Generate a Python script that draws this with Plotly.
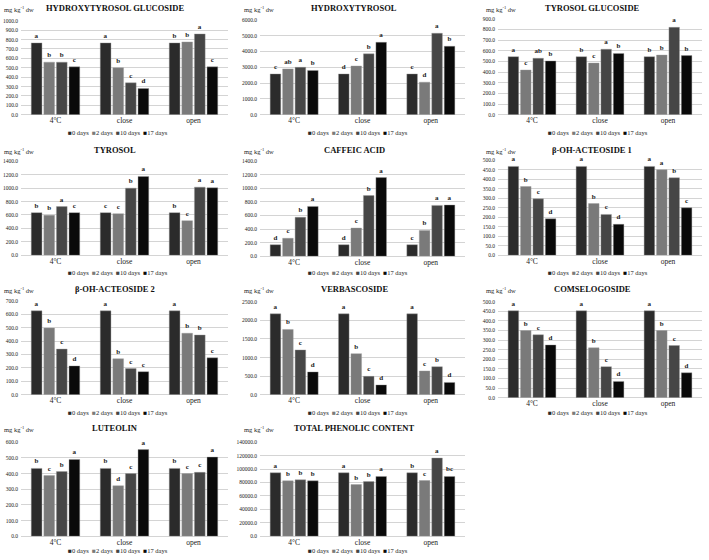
import plotly.graph_objects as go

W, H = 709, 560
FONT = "Liberation Serif"

groups = ["4°C", "close", "open"]
days = ["0 days", "2 days", "10 days", "17 days"]
colors = ["#2b2b2b", "#7a7a7a", "#464646", "#0a0a0a"]

# values: rows = groups (4°C, close, open), columns = days (0, 2, 10, 17)
ht_glucoside = [[765, 560, 560, 510], [765, 500, 340, 280], [765, 775, 860, 510]]
ht_glucoside_lt = [["a", "b", "b", "c"], ["a", "b", "c", "d"], ["b", "b", "a", "c"]]

hydroxytyrosol = [[2580, 2900, 3000, 2800], [2580, 3080, 3850, 4580], [2580, 2060, 5150, 4330]]
hydroxytyrosol_lt = [["c", "ab", "a", "b"], ["d", "c", "b", "a"], ["c", "d", "a", "b"]]

tyr_glucoside = [[545, 420, 530, 505], [545, 485, 615, 575], [545, 560, 820, 555]]
tyr_glucoside_lt = [["a", "c", "ab", "b"], ["b", "c", "a", "b"], ["b", "b", "a", "b"]]

tyrosol = [[635, 595, 725, 635], [635, 620, 1000, 1175], [635, 515, 1015, 1005]]
tyrosol_lt = [["b", "b", "a", "c"], ["c", "c", "b", "a"], ["b", "c", "a", "a"]]

caffeic = [[170, 265, 575, 735], [170, 415, 895, 1160], [170, 380, 750, 755]]
caffeic_lt = [["d", "c", "b", "a"], ["d", "c", "b", "a"], ["c", "b", "a", "a"]]

acteoside1 = [[468, 362, 297, 192], [468, 272, 215, 163], [468, 450, 408, 250]]
acteoside1_lt = [["a", "b", "c", "d"], ["a", "b", "c", "d"], ["a", "a", "b", "c"]]

acteoside2 = [[625, 497, 340, 215], [625, 268, 195, 172], [625, 458, 445, 275]]
acteoside2_lt = [["a", "b", "c", "d"], ["a", "b", "c", "c"], ["a", "b", "b", "c"]]

verbascoside = [[2175, 1755, 1205, 615], [2175, 1105, 495, 265], [2175, 640, 755, 330]]
verbascoside_lt = [["a", "b", "c", "d"], ["a", "b", "c", "d"], ["a", "c", "b", "d"]]

comselogoside = [[453, 350, 328, 275], [453, 260, 162, 85], [453, 350, 272, 130]]
comselogoside_lt = [["a", "b", "c", "d"], ["a", "b", "c", "d"], ["a", "b", "c", "d"]]

luteolin = [[433, 387, 413, 490], [433, 322, 400, 553], [433, 400, 408, 505]]
luteolin_lt = [["b", "c", "b", "a"], ["b", "d", "c", "a"], ["b", "c", "c", "a"]]

tpc = [[94500, 82500, 84000, 82500], [94500, 77000, 81500, 89000], [94500, 83000, 116500, 89000]]
tpc_lt = [["a", "b", "b", "b"], ["a", "b", "b", "a"], ["b", "c", "a", "bc"]]

titles = ["HYDROXYTYROSOL GLUCOSIDE", "HYDROXYTYROSOL", "TYROSOL GLUCOSIDE",
          "TYROSOL", "CAFFEIC ACID", "β-OH-ACTEOSIDE 1",
          "β-OH-ACTEOSIDE 2", "VERBASCOSIDE", "COMSELOGOSIDE",
          "LUTEOLIN", "TOTAL PHENOLIC CONTENT"]
y_max = [1000, 6000, 900, 1400, 1400, 500, 700, 2500, 500, 600, 140000]
y_step = [100, 1000, 100, 200, 200, 50, 100, 500, 50, 100, 20000]

panels = [
    (ht_glucoside, ht_glucoside_lt), (hydroxytyrosol, hydroxytyrosol_lt), (tyr_glucoside, tyr_glucoside_lt),
    (tyrosol, tyrosol_lt), (caffeic, caffeic_lt), (acteoside1, acteoside1_lt),
    (acteoside2, acteoside2_lt), (verbascoside, verbascoside_lt), (comselogoside, comselogoside_lt),
    (luteolin, luteolin_lt), (tpc, tpc_lt),
]

# layout (pixels)
col_x = [(21, 228), (260, 465), (498, 702)]
col_title_x = [115, 354, 592]
col_unit_x = [2, 242, 484]
col_leg_x = [118, 358, 598]
plot_y = [(18, 113), (17, 113), (16, 113),
          (160, 255), (160, 256), (159, 255),
          (301, 396), (302, 396), (302, 399),
          (444, 539), (444, 539)]
row_title_y = [5, 149, 289, 430]
row_leg_y = [131, 272, 414, 553]

fig = go.Figure()
annotations = []

def py(p):
    return 1 - p / H

for i, ((vals, lts), title) in enumerate(zip(panels, titles)):
    r, c = divmod(i, 3)
    ax = "" if i == 0 else str(i + 1)
    for d in range(4):
        fig.add_trace(go.Bar(
            x=groups, y=[vals[g][d] for g in range(3)],
            text=["<b>%s</b>" % lts[g][d] for g in range(3)],
            textposition="outside", constraintext="none", cliponaxis=False,
            textfont=dict(family=FONT, size=7, color="#222222"),
            outsidetextfont=dict(family=FONT, size=7, color="#222222"),
            marker=dict(color=colors[d], line=dict(color="#9a9a9a", width=0.4)),
            name=days[d], showlegend=False, hoverinfo="x+y+name",
            xaxis="x" + ax, yaxis="y" + ax,
        ))
    x0, x1 = col_x[c]
    t0, t1 = plot_y[i]
    fig.layout["xaxis" + ax] = dict(
        domain=[x0 / W, x1 / W], anchor="y" + ax, showgrid=False, showline=False,
        ticks="", tickfont=dict(family=FONT, size=7.5, color="#222"), fixedrange=True,
    )
    fig.layout["yaxis" + ax] = dict(
        domain=[py(t1), py(t0)], anchor="x" + ax, range=[0, y_max[i]], dtick=y_step[i],
        tick0=0, tickformat=".1f", showgrid=True, gridcolor="#d4d4d4", gridwidth=1,
        zeroline=True, zerolinecolor="#d4d4d4", zerolinewidth=1, showline=False,
        ticks="", ticklabelstandoff=2, tickfont=dict(family=FONT, size=5.5, color="#222"),
    )
    annotations.append(dict(
        text="<b>" + title + "</b>", x=col_title_x[c] / W, y=py(row_title_y[r]),
        xref="paper", yref="paper", xanchor="center", yanchor="middle", showarrow=False,
        font=dict(family=FONT, size=8.5, color="#111"),
    ))
    annotations.append(dict(
        text="mg kg<sup>-1</sup> dw", x=col_unit_x[c] / W, y=py(row_title_y[r] + 1),
        xref="paper", yref="paper", xanchor="left", yanchor="middle", showarrow=False,
        font=dict(family=FONT, size=6.5, color="#222"),
    ))
    leg = "\u00a0\u00a0".join(
        '<span style="color:%s">■</span>%s' % (colors[d], days[d]) for d in range(4))
    annotations.append(dict(
        text=leg, x=col_leg_x[c] / W, y=py(row_leg_y[r]),
        xref="paper", yref="paper", xanchor="center", yanchor="middle", showarrow=False,
        font=dict(family=FONT, size=6.5, color="#222"),
    ))

fig.update_layout(
    width=W, height=H, margin=dict(l=0, r=0, t=0, b=0),
    paper_bgcolor="white", plot_bgcolor="white",
    barmode="group", bargap=0.27, bargroupgap=0.15,
    annotations=annotations, showlegend=False,
)

fig.write_html("out.html", config={"displayModeBar": False},
               post_script="document.body.style.margin='0';document.body.style.overflow='hidden';")
